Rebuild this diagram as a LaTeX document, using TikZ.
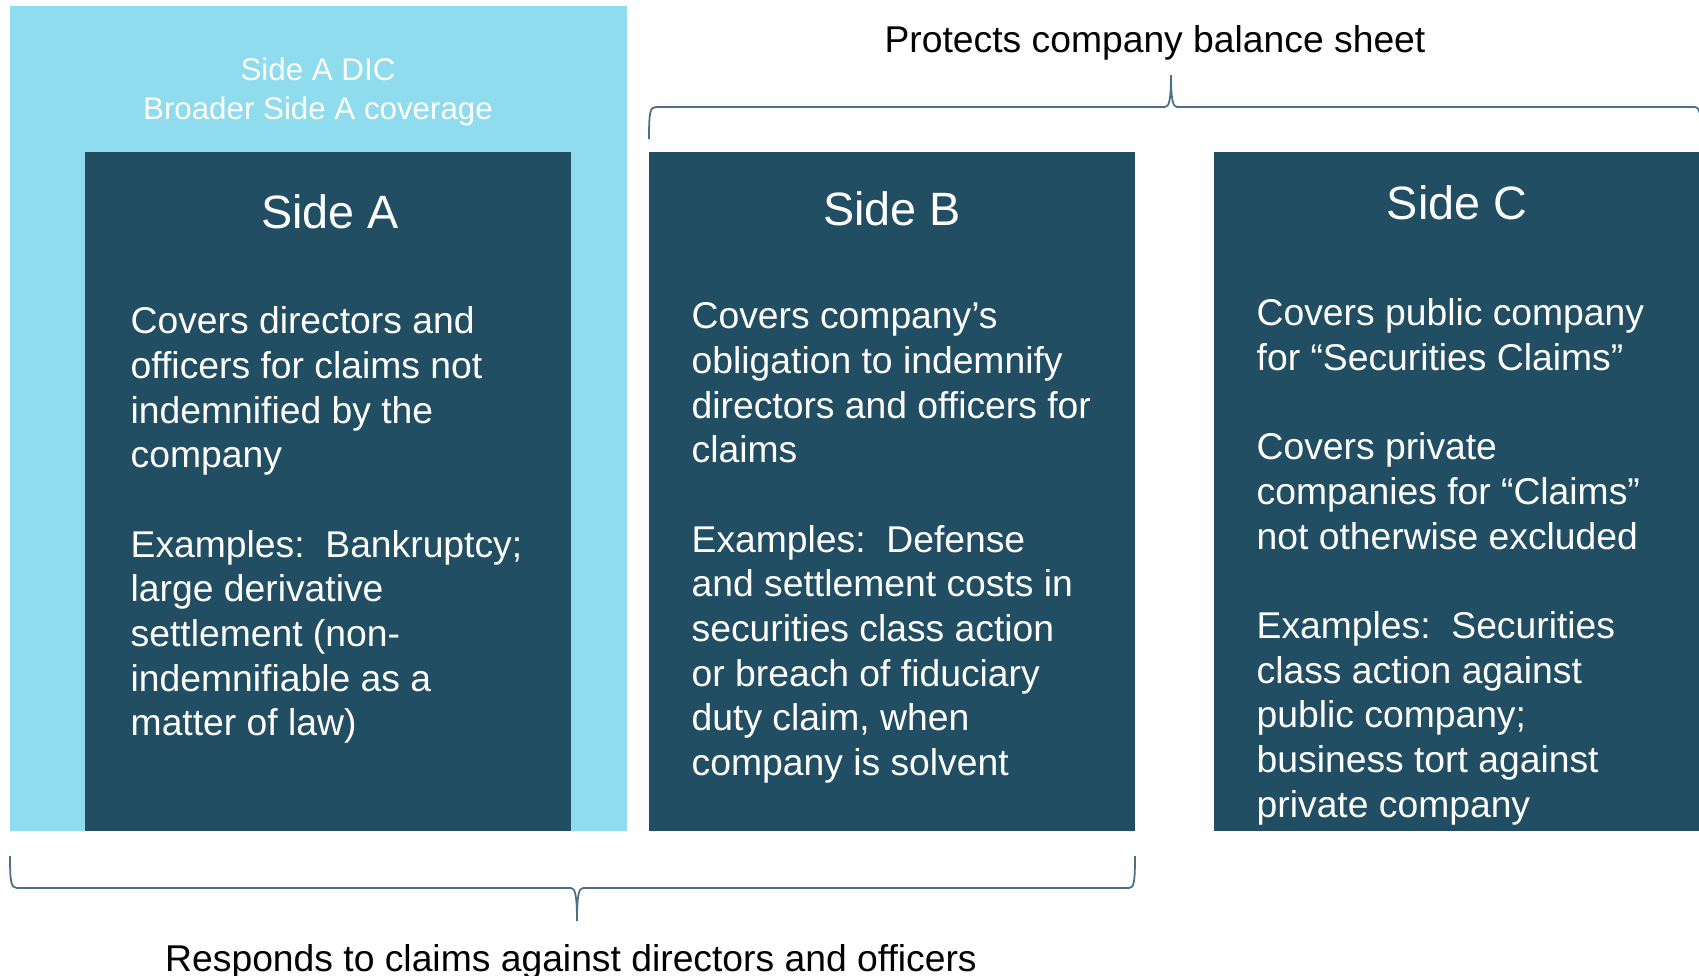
\documentclass[tikz,border=0pt]{standalone}
\usepackage{fontspec}
\setmainfont{Liberation Sans}
\usepackage{xcolor}
\usepackage{tikz}
\definecolor{dnonavy}{HTML}{214E63}
\definecolor{dnosky}{HTML}{8EDCEE}
\definecolor{dnoslate}{HTML}{4A7084}

\begin{document}
\begin{tikzpicture}[x=0.01cm, y=-0.01cm,
  sidetitle/.style={white, anchor=base, font=\fontsize{13.3}{16}\selectfont},
  sidetext/.style={white, anchor=north west, align=left, inner sep=0pt,
    font=\fontsize{10.6}{12.7}\selectfont},
  heading/.style={black, anchor=base, font=\fontsize{10.6}{12.7}\selectfont},
  bracket/.style={dnoslate, line width=0.5pt}]
  \useasboundingbox (0,0) rectangle (1699,975);

  % Side A DIC backdrop
  \fill[dnosky] (10,6) rectangle (627,831);
  \node[white, anchor=north, align=center, inner sep=0pt,
    font=\fontsize{8.9}{11.1}\selectfont] (dicLabel) at (318,52)
    {\strut Side A DIC\\Broader Side A coverage};

  % Side panels
  \fill[dnonavy] (85,152) rectangle (571,831);
  \fill[dnonavy] (649,152) rectangle (1135,831);
  \fill[dnonavy] (1214,152) rectangle (1699,831);

  \node[sidetitle] (titleA) at (330,228) {Side A};
  \node[sidetitle] (titleB) at (892,225) {Side B};
  \node[sidetitle] (titleC) at (1457,219) {Side C};

  \node[sidetext] (textA) at (130,302) {\strut Covers directors and\\
    officers for claims not\\indemnified by the\\company\\[12.7pt]
    Examples:\ \ Bankruptcy;\\large derivative\\settlement (non-\\
    indemnifiable as a\\matter of law)};

  \node[sidetext] (textB) at (691,297) {\strut Covers company’s\\
    obligation to indemnify\\directors and officers for\\claims\\[12.7pt]
    Examples:\ \ Defense\\and settlement costs in\\securities class action\\
    or breach of fiduciary\\duty claim, when\\company is solvent};

  \node[sidetext] (textC) at (1256,294) {\strut Covers public company\\
    for “Securities Claims”\\[12.7pt]
    Covers private\\companies for “Claims”\\not otherwise excluded\\[12.7pt]
    Examples:\ \ Securities\\class action against\\public company;\\
    business tort against\\private company};

  % Brace over Sides B and C
  \draw[bracket] (649,139) .. controls (649,112) and (650,107) .. (656,107)
    -- (1165,107) .. controls (1169,107) and (1171,100) .. (1171,75)
    .. controls (1171,100) and (1173,107) .. (1177,107)
    -- (1695,107) .. controls (1699,107) and (1701,112) .. (1702,139);
  \node[heading] (topNote) at (1155,52) {Protects company balance sheet};

  % Brace under Sides A and B
  \draw[bracket] (10,856) .. controls (10,882) and (11,888) .. (17,888)
    -- (571,888) .. controls (575,888) and (577,895) .. (577,921)
    .. controls (577,895) and (579,888) .. (583,888)
    -- (1129,888) .. controls (1134,888) and (1135,882) .. (1135,856);
  \node[heading] (bottomNote) at (571,971)
    {Responds to claims against directors and officers};
\end{tikzpicture}
\end{document}
